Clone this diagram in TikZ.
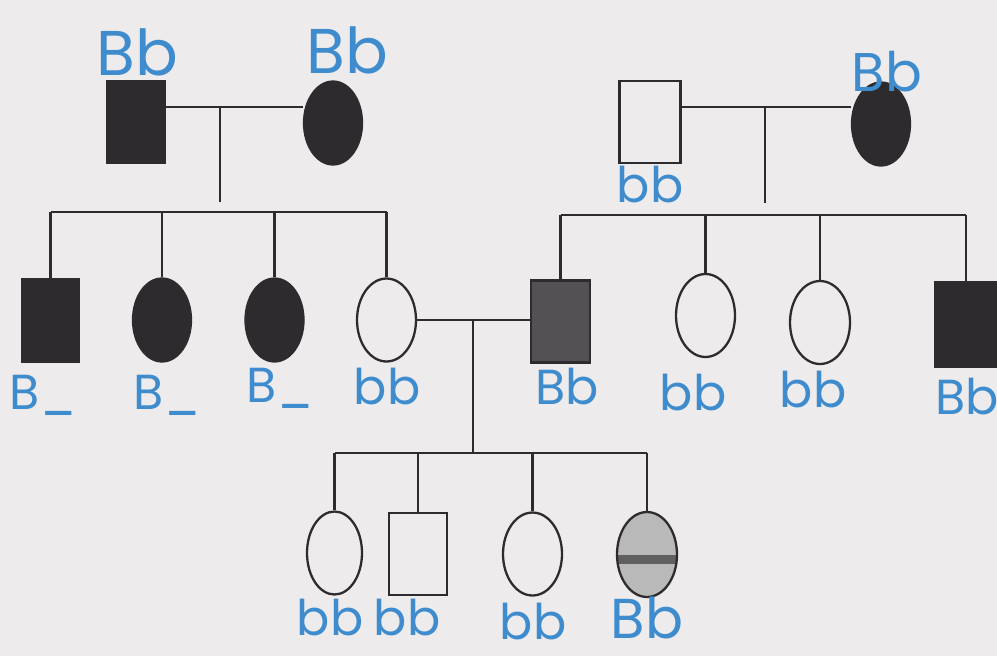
\documentclass[tikz,border=0pt]{standalone}
\usepackage{fontspec}
\newfontfamily\handfont{Poppins}
\usetikzlibrary{shapes.geometric}
\definecolor{paper}{RGB}{238,235,237}
\definecolor{ink}{RGB}{45,43,45}
\definecolor{pen}{RGB}{62,140,205}

\begin{document}
\begin{tikzpicture}[
    x=0.02cm, y=-0.02cm,
    male/.style={rectangle, draw=ink, line width=1.3pt, minimum width=1.16cm, minimum height=1.64cm, inner sep=0pt},
    female/.style={ellipse, draw=ink, line width=1.3pt, minimum width=1.16cm, minimum height=1.66cm, inner sep=0pt},
    affected/.style={fill=ink},
    geno/.style={text=pen, font=\handfont\fontsize{28}{30}\selectfont, inner sep=0pt},
    big/.style={font=\handfont\fontsize{36}{38}\selectfont},
    line/.style={draw=ink, line width=1.3pt}
]
% Background
\fill[paper] (0,0) rectangle (997,656);
\useasboundingbox (0,0) rectangle (997,656);

% Generation I
\node[male, affected] (f1) at (136,122) {};
\node[female, affected] (m1) at (333,123) {};
\node[male, minimum width=1.22cm] (f2) at (650,122) {};
\node[female, affected] (m2) at (881,124) {};

% Generation II
\node[male, affected, minimum width=1.14cm] (c1) at (50.5,320.5) {};
\node[female, affected] (c2) at (162,320) {};
\node[female, affected] (c3) at (274.5,320) {};
\node[female, minimum width=1.18cm] (c4) at (386.5,320) {};
\node[male, fill=ink!82, minimum width=1.18cm] (h1) at (560.5,321.5) {};
\node[female, minimum width=1.18cm] (c6) at (705.5,315.5) {};
\node[female, minimum width=1.2cm] (c7) at (820,322.5) {};
\node[male, affected, minimum width=1.24cm, minimum height=1.7cm] (c8) at (966,324.5) {};

% Generation III
\node[female, minimum width=1.1cm] (g1) at (334.5,553) {};
\node[male] (g2) at (418,554) {};
\node[female, minimum width=1.18cm] (g3) at (532.5,554) {};
\node[female, fill=gray!55, minimum width=1.2cm, minimum height=1.7cm,
      path picture={\fill[ink!75] (path picture bounding box.west) rectangle ([yshift=-0.18cm]path picture bounding box.east);}] (g4) at (647,554.5) {};

% Couples
\coordinate (u1) at (220,107);
\coordinate (u2) at (765,107);
\draw[line] (f1.east |- u1) -- (m1.west |- u1);
\draw[line] (f2.east |- u2) -- (m2.west |- u2);
\draw[line] (c4.east) -- (h1.west |- c4.east);
\coordinate (u3) at (473,320);

% Sibship lines
\coordinate (d1) at (220,202);
\coordinate (s1) at (0,212);
\draw[line] (u1) -- (d1);
\draw[line] (c1.north |- s1) -- (c4.north |- s1);
\foreach \k in {c1,c2,c3,c4} \draw[line] (\k.north |- s1) -- (\k.north);

\coordinate (d2) at (765,203);
\coordinate (s2) at (0,215);
\draw[line] (u2) -- (d2);
\draw[line] (h1.north |- s2) -- (c8.north |- s2);
\foreach \k in {h1,c6,c7,c8} \draw[line] (\k.north |- s2) -- (\k.north);

\coordinate (s3) at (0,453);
\draw[line] (u3) -- (u3 |- s3);
\draw[line] (g1.north |- s3) -- (g4.north |- s3);
\foreach \k in {g1,g2,g3,g4} \draw[line] (\k.north |- s3) -- (\k.north);

% Genotypes
\node[geno, big] (lf1) at (137,52) {Bb};
\node[geno, big] (lm1) at (347,50) {Bb};
\node[geno] (lf2) at (650,185) {bb};
\node[geno, font=\handfont\fontsize{31}{33}\selectfont] (lm2) at (887,72) {Bb};

\node[geno] (lc1) at (43,395) {B\_};
\node[geno] (lc2) at (167,395) {B\_};
\node[geno] (lc3) at (280,388) {B\_};
\node[geno] (lc4) at (387,387) {bb};
\node[geno] (lh1) at (567,387) {Bb};
\node[geno] (lc6) at (693,393) {bb};
\node[geno] (lc7) at (813,390) {bb};
\node[geno] (lc8) at (967,397) {Bb};

\node[geno] (lg1) at (330,618) {bb};
\node[geno] (lg2) at (407,618) {bb};
\node[geno] (lg3) at (533,622) {bb};
\node[geno, font=\handfont\fontsize{32}{34}\selectfont] (lg4) at (647,618) {Bb};
\end{tikzpicture}
\end{document}
